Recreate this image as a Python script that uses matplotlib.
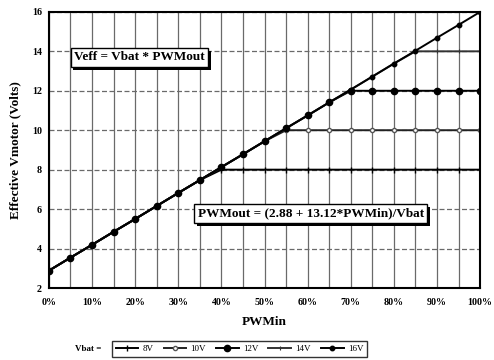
import matplotlib
matplotlib.use("Agg")
import matplotlib.pyplot as plt
import matplotlib.patheffects as pe
from matplotlib.ticker import MultipleLocator, FuncFormatter

pwm_in = [0, 5, 10, 15, 20, 25, 30, 35, 40, 45, 50, 55, 60, 65, 70, 75, 80, 85, 90, 95, 100]
v8 = [2.88, 3.54, 4.19, 4.85, 5.50, 6.16, 6.82, 7.47, 8, 8, 8, 8, 8, 8, 8, 8, 8, 8, 8, 8, 8]
v10 = [2.88, 3.54, 4.19, 4.85, 5.50, 6.16, 6.82, 7.47, 8.13, 8.78, 9.44, 10, 10, 10, 10, 10, 10, 10, 10, 10, 10]
v12 = [2.88, 3.54, 4.19, 4.85, 5.50, 6.16, 6.82, 7.47, 8.13, 8.78, 9.44, 10.10, 10.75, 11.41, 12, 12, 12, 12, 12, 12, 12]
v14 = [2.88, 3.54, 4.19, 4.85, 5.50, 6.16, 6.82, 7.47, 8.13, 8.78, 9.44, 10.10, 10.75, 11.41, 12.06, 12.72, 13.38, 14, 14, 14, 14]
v16 = [2.88, 3.54, 4.19, 4.85, 5.50, 6.16, 6.82, 7.47, 8.13, 8.78, 9.44, 10.10, 10.75, 11.41, 12.06, 12.72, 13.38, 14.03, 14.69, 15.34, 16.00]
series_labels = ["8V", "10V", "12V", "14V", "16V"]

font = "Liberation Serif"
plt.rcParams['font.family'] = [font, 'DejaVu Serif']

fig = plt.figure(figsize=(4.94, 3.6), dpi=100)
ax = fig.add_axes([0.099, 0.2, 0.873, 0.767])

styles = [
    dict(marker='|', ms=4, mew=1.0, color='black'),
    dict(marker='o', ms=3, mfc='white', mec='#555555', color='#222222'),
    dict(marker='o', ms=4.5, color='black'),
    dict(marker='|', ms=3, mew=0.8, color='#333333'),
    dict(marker='o', ms=3.2, color='black'),
]
for ys, lab, st in zip([v8, v10, v12, v14, v16], series_labels, styles):
    ax.plot(pwm_in, ys, lw=1.4, label=lab, **st)

ax.set_xlim(0, 100)
ax.set_ylim(2, 16)
ax.xaxis.set_major_locator(MultipleLocator(10))
ax.xaxis.set_minor_locator(MultipleLocator(5))
ax.yaxis.set_major_locator(MultipleLocator(2))
ax.xaxis.set_major_formatter(FuncFormatter(lambda v, p: f"{int(round(v))}%"))
ax.grid(True, which='both', axis='x', color='#6a6a6a', lw=0.9)
ax.grid(True, which='major', axis='y', color='#6a6a6a', lw=0.9, ls=(0, (4, 2)))
ax.set_axisbelow(True)
for s in ax.spines.values():
    s.set_linewidth(1.5)
ax.tick_params(axis='both', which='both', length=0, labelsize=7.2)
ax.tick_params(axis='x', pad=7)
ax.tick_params(axis='y', pad=5)
for t in ax.get_xticklabels() + ax.get_yticklabels():
    t.set_fontweight('bold')

ax.set_xlabel("PWMin", fontsize=9.5, fontweight='bold', labelpad=7)
ax.set_ylabel("Effective Vmotor (Volts)", fontsize=9.5, fontweight='bold', labelpad=8)


def boxed(x, y, s):
    t = ax.text(x, y, s, transform=ax.transAxes, fontsize=9.5, fontweight='bold',
                va='center', ha='left',
                bbox=dict(boxstyle='square,pad=0.25', fc='white', ec='black', lw=1.0),
                zorder=6)
    t.get_bbox_patch().set_path_effects([
        pe.SimplePatchShadow(offset=(2, -2), shadow_rgbFace='black', alpha=1.0),
        pe.Normal()])


boxed(0.058, 0.835, "Veff = Vbat * PWMout")
boxed(0.345, 0.27, "PWMout = (2.88 + 13.12*PWMin)/Vbat")

leg = fig.legend(loc='center', bbox_to_anchor=(0.485, 0.03), ncol=5, fontsize=6.5,
                 frameon=True, fancybox=False, edgecolor='black', handlelength=2.5,
                 columnspacing=1.1, handletextpad=0.5, borderpad=0.4)
leg.get_frame().set_linewidth(1.0)
fig.text(0.205, 0.03, "Vbat =", fontsize=6.5, fontweight='bold', ha='right', va='center')

fig.savefig("out.png", dpi=100)
